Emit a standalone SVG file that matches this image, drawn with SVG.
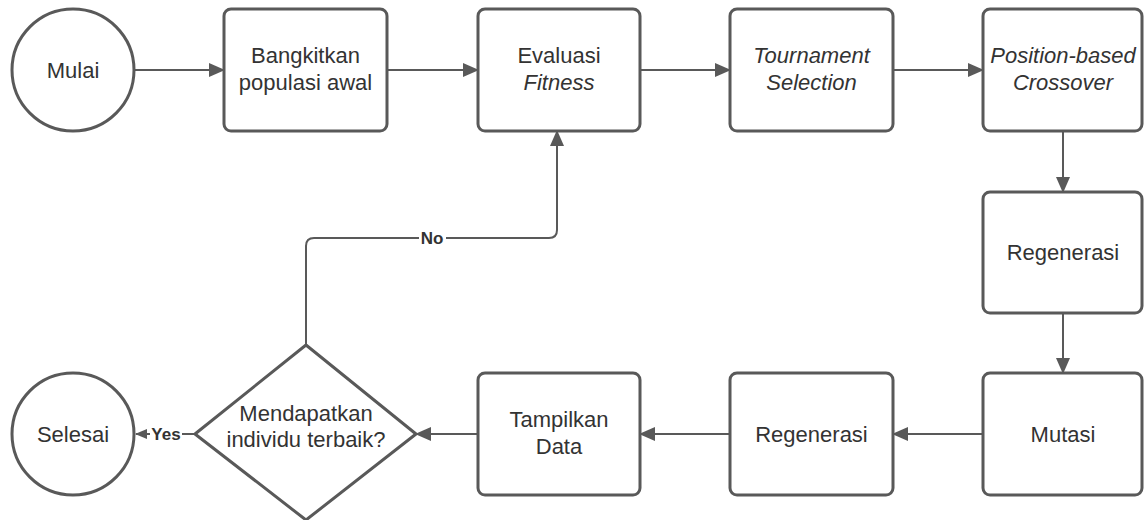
<svg xmlns="http://www.w3.org/2000/svg" width="1144" height="520" viewBox="0 0 1144 520">
<defs>
<marker id="arr" markerUnits="userSpaceOnUse" markerWidth="16" markerHeight="14" refX="15" refY="7" orient="auto">
<path d="M0,0 L16,7 L0,14 Z" fill="#595959"/>
</marker>
<marker id="arrs" markerUnits="userSpaceOnUse" markerWidth="12" markerHeight="10" refX="11" refY="5" orient="auto">
<path d="M0,0 L12,5 L0,10 Z" fill="#595959"/>
</marker>
<style>
.s{fill:#fff;stroke:#595959;stroke-width:3}
.c{fill:none;stroke:#595959;stroke-width:2}
.t{font-family:"Liberation Sans",Arial,sans-serif;font-size:22px;fill:#333;text-anchor:middle}
.i{font-style:italic}
.l{font-family:"Liberation Sans",Arial,sans-serif;font-size:17px;font-weight:bold;fill:#333;text-anchor:middle}
</style>
</defs>
<rect width="1144" height="520" fill="#fff"/>
<g id="connectors">
<path class="c" d="M135,70 H224" marker-end="url(#arr)"/>
<path class="c" d="M387,70 H478" marker-end="url(#arr)"/>
<path class="c" d="M640,70 H730" marker-end="url(#arr)"/>
<path class="c" d="M893,70 H983" marker-end="url(#arr)"/>
<path class="c" d="M1063,131 V192" marker-end="url(#arr)"/>
<path class="c" d="M1063,313 V373" marker-end="url(#arr)"/>
<path class="c" d="M983,434 H893" marker-end="url(#arr)"/>
<path class="c" d="M730,434 H640" marker-end="url(#arr)"/>
<path class="c" d="M478,434 H416" marker-end="url(#arr)"/>
<path class="c" d="M195,434 H136" marker-end="url(#arrs)"/>
<path class="c" d="M306,345 V246 Q306,238 314,238 H549 Q557,238 557,230 V131" marker-end="url(#arr)"/>
<rect x="150" y="424" width="32" height="20" fill="#fff"/>
<text class="l" x="166" y="440">Yes</text>
<rect x="419" y="228" width="27" height="20" fill="#fff"/>
<text class="l" x="432" y="244">No</text>
</g>
<g id="mulai">
<circle class="s" cx="73" cy="70" r="61"/>
<text class="t" x="73" y="78">Mulai</text>
</g>
<g id="bangkitkan">
<rect class="s" x="224" y="9" width="163" height="122" rx="7"/>
<text class="t" x="305.5" y="63">Bangkitkan</text>
<text class="t" x="305.5" y="90">populasi awal</text>
</g>
<g id="evaluasi">
<rect class="s" x="478" y="9" width="162" height="122" rx="7"/>
<text class="t" x="559" y="63">Evaluasi</text>
<text class="t i" x="559" y="90">Fitness</text>
</g>
<g id="tournament">
<rect class="s" x="730" y="9" width="163" height="122" rx="7"/>
<text class="t i" x="811.5" y="63">Tournament</text>
<text class="t i" x="811.5" y="90">Selection</text>
</g>
<g id="crossover">
<rect class="s" x="983" y="9" width="159" height="122" rx="7"/>
<text class="t i" x="1063" y="63">Position-based</text>
<text class="t i" x="1063" y="90">Crossover</text>
</g>
<g id="regenerasi1">
<rect class="s" x="983" y="192" width="159" height="121" rx="7"/>
<text class="t" x="1063" y="260">Regenerasi</text>
</g>
<g id="mutasi">
<rect class="s" x="983" y="373" width="159" height="122" rx="7"/>
<text class="t" x="1063" y="442">Mutasi</text>
</g>
<g id="regenerasi2">
<rect class="s" x="730" y="373" width="163" height="122" rx="7"/>
<text class="t" x="811.5" y="442">Regenerasi</text>
</g>
<g id="tampilkan">
<rect class="s" x="478" y="373" width="162" height="122" rx="7"/>
<text class="t" x="559" y="427">Tampilkan</text>
<text class="t" x="559" y="454">Data</text>
</g>
<g id="keputusan">
<path class="s" d="M306,345 L416,434 L306,520 L195,434 Z" stroke-linejoin="round"/>
<text class="t" x="306" y="421">Mendapatkan</text>
<text class="t" x="306" y="447">individu terbaik?</text>
</g>
<g id="selesai">
<circle class="s" cx="73" cy="434" r="61"/>
<text class="t" x="73" y="442">Selesai</text>
</g>
</svg>
